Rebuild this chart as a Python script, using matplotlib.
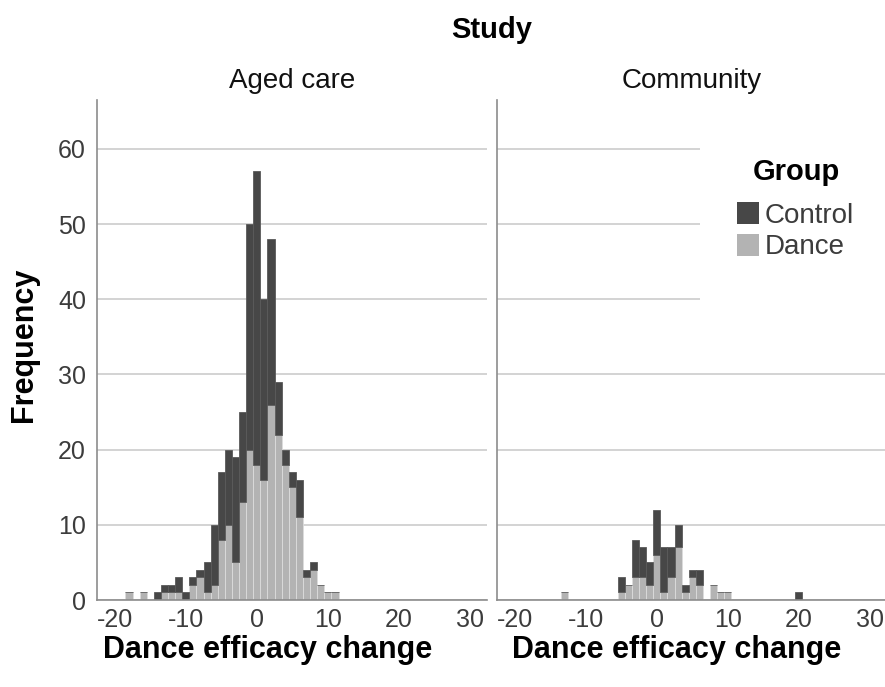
import matplotlib
matplotlib.use("Agg")
import matplotlib.pyplot as plt
from matplotlib.patches import Patch, Rectangle

plt.rcParams['font.family'] = ['Liberation Sans', 'DejaVu Sans']
plt.rcParams['axes.unicode_minus'] = False

# Counts per change score (bin width 1, centred on integers)
aged_bins = list(range(-18, 12))
aged_dance = [1, 0, 1, 0, 0, 1, 1, 1, 0, 2, 3, 1, 2, 8, 10, 5, 13, 20,
              18, 16, 26, 22, 18, 15, 11, 3, 4, 2, 1, 1]
aged_control = [0, 0, 0, 0, 1, 1, 1, 2, 1, 1, 1, 4, 8, 9, 10, 14, 12, 30,
                39, 24, 22, 7, 2, 2, 5, 1, 1, 0, 0, 0]

comm_bins = [-13, -5, -4, -3, -2, -1, 0, 1, 2, 3, 4, 5, 6, 7, 8, 9, 10, 20]
comm_dance = [1, 1, 2, 3, 3, 2, 6, 1, 3, 7, 1, 3, 2, 0, 2, 1, 1, 0]
comm_control = [0, 2, 0, 5, 4, 3, 6, 6, 4, 3, 1, 1, 2, 0, 0, 0, 0, 1]

panels = ["Aged care", "Community"]
groups = ["Control", "Dance"]
x_ticks = [-20, -10, 0, 10, 20, 30]
y_ticks = [0, 10, 20, 30, 40, 50, 60]

c_control = "#474747"
c_dance = "#b3b3b3"
txt = "#3c3c3c"

fig = plt.figure(figsize=(8.85, 6.87), dpi=100)
W, H = 885, 687
ax1 = fig.add_axes([97 / W, 87 / H, 390 / W, 500 / H])
ax2 = fig.add_axes([497 / W, 87 / H, 390 / W, 500 / H])

data = [(aged_bins, aged_dance, aged_control),
        (comm_bins, comm_dance, comm_control)]

for ax, name, (b, d, c) in zip([ax1, ax2], panels, data):
    ax.set_axisbelow(True)
    ax.bar(b, d, width=1.0, color=c_dance, edgecolor="#dcdcdc", linewidth=0.6)
    ax.bar(b, c, width=1.0, bottom=d, color=c_control, edgecolor="#5a5a5a",
           linewidth=0.6)
    ax.set_xlim(-22.5, 32.4)
    ax.set_ylim(0, 66.5)
    ax.set_xticks(x_ticks)
    ax.set_yticks(y_ticks)
    ax.yaxis.grid(True, color="#c8c8c8", linewidth=1.1)
    for s in ["top", "right"]:
        ax.spines[s].set_visible(False)
    for s in ["left", "bottom"]:
        ax.spines[s].set_color("#8c8c8c")
        ax.spines[s].set_linewidth(1.2)
    ax.tick_params(axis="both", length=0, labelsize=18, labelcolor=txt)
    ax.tick_params(axis="x", pad=6)
    ax.tick_params(axis="y", pad=8)
    ax.set_title(name, fontsize=20, color="#111111", pad=9)

ax2.tick_params(axis="y", labelleft=False)

# white area behind the legend hides the upper gridlines
ax2.add_patch(Rectangle((203 / 390, 0.58), 0.5, 0.355,
                        transform=ax2.transAxes, facecolor="white",
                        edgecolor="none", zorder=1, clip_on=False))

handles = [Patch(facecolor=c_control, edgecolor="none"),
           Patch(facecolor=c_dance, edgecolor="none")]
leg = ax2.legend(handles, groups, loc="upper left",
                 bbox_to_anchor=(240 / 390, 0.796), frameon=False,
                 fontsize=20, handlelength=0.8, handleheight=0.85,
                 handletextpad=0.2, labelspacing=0.18, borderpad=0,
                 borderaxespad=0)
for t in leg.get_texts():
    t.set_color(txt)
fig.text(796 / W, 1 - 172 / H, "Group", ha="center", va="center",
         fontsize=21, fontweight="bold")

fig.text(492 / W, 1 - 30 / H, "Study", ha="center", va="center",
         fontsize=21, fontweight="bold")
fig.text(24 / W, 1 - 345 / H, "Frequency", ha="center", va="center",
         rotation=90, fontsize=22, fontweight="bold")
fig.text(268 / W, 1 - 650 / H, "Dance efficacy change", ha="center",
         va="center", fontsize=22, fontweight="bold")
fig.text(677 / W, 1 - 650 / H, "Dance efficacy change", ha="center",
         va="center", fontsize=22, fontweight="bold")

fig.savefig("out.png", dpi=100)
